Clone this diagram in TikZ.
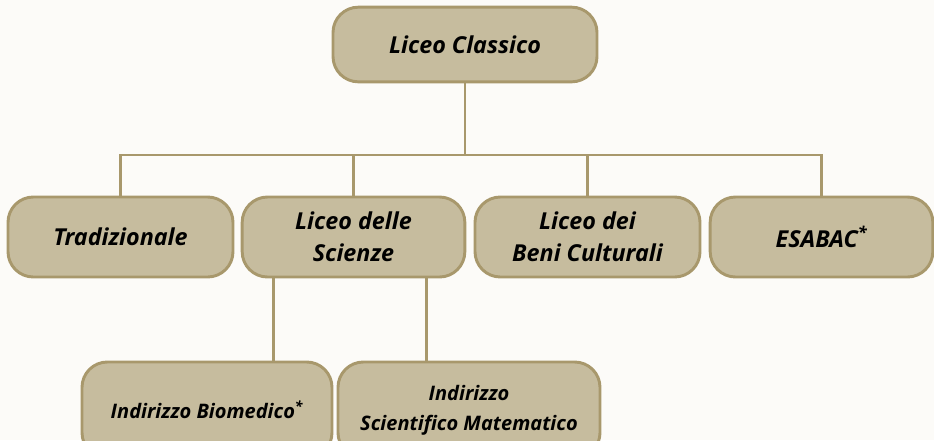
\documentclass[tikz,border=0pt]{standalone}
\usepackage{fontspec}
\setmainfont{Open Sans}
\definecolor{boxfill}{HTML}{C6BC9E}
\definecolor{boxline}{HTML}{A8986C}
\definecolor{paper}{HTML}{FCFBF8}
\tikzset{
  box/.style={draw=boxline, line width=2.2pt, fill=boxfill, rounded corners=19pt,
    minimum height=60pt, inner sep=2pt, align=center,
    font=\fontsize{17.5}{24}\selectfont\bfseries\itshape},
  link/.style={draw=boxline, line width=1.9pt}
}
\begin{document}
\begin{tikzpicture}[x=0.75pt,y=-0.75pt]
\fill[paper] (0,0) rectangle (934,440);
\useasboundingbox (0,0) rectangle (934,440);
\node[box, minimum width=198pt, minimum height=56pt] (lc) at (465,44.5) {Liceo Classico};
\node[box, minimum width=168.75pt] (t) at (120.5,237) {Tradizionale};
\node[box, minimum width=167pt] (s) at (353.5,237) {Liceo delle\\Scienze};
\node[box, minimum width=168.75pt] (b) at (587.5,237) {Liceo dei\\Beni Culturali};
\node[box, minimum width=167pt] (e) at (821.5,237) {ESABAC\textsuperscript{*}};
\node[box, minimum width=187.5pt, minimum height=72pt, font=\fontsize{15}{22.5}\selectfont\bfseries\itshape] (bio) at (207,410) {Indirizzo Biomedico\textsuperscript{*}};
\node[box, minimum width=196.5pt, minimum height=72pt, font=\fontsize{15}{22.5}\selectfont\bfseries\itshape] (mat) at (469,410) {Indirizzo\\Scientifico Matematico};
\coordinate (bus) at (465,155);
% rami
\draw[link] (lc.south) -- (lc.south |- bus);
\draw[link] (t.north) -- (t.north |- bus) -- (e.north |- bus) -- (e.north);
\draw[link] (s.north) -- (s.north |- bus);
\draw[link] (b.north) -- (b.north |- bus);
\draw[link] ([xshift=24.75pt]s.south west) coordinate (s1) -- (s1 |- bio.north);
\draw[link] ([xshift=-30pt]s.south east) coordinate (s2) -- (s2 |- mat.north);
\end{tikzpicture}
\end{document}
